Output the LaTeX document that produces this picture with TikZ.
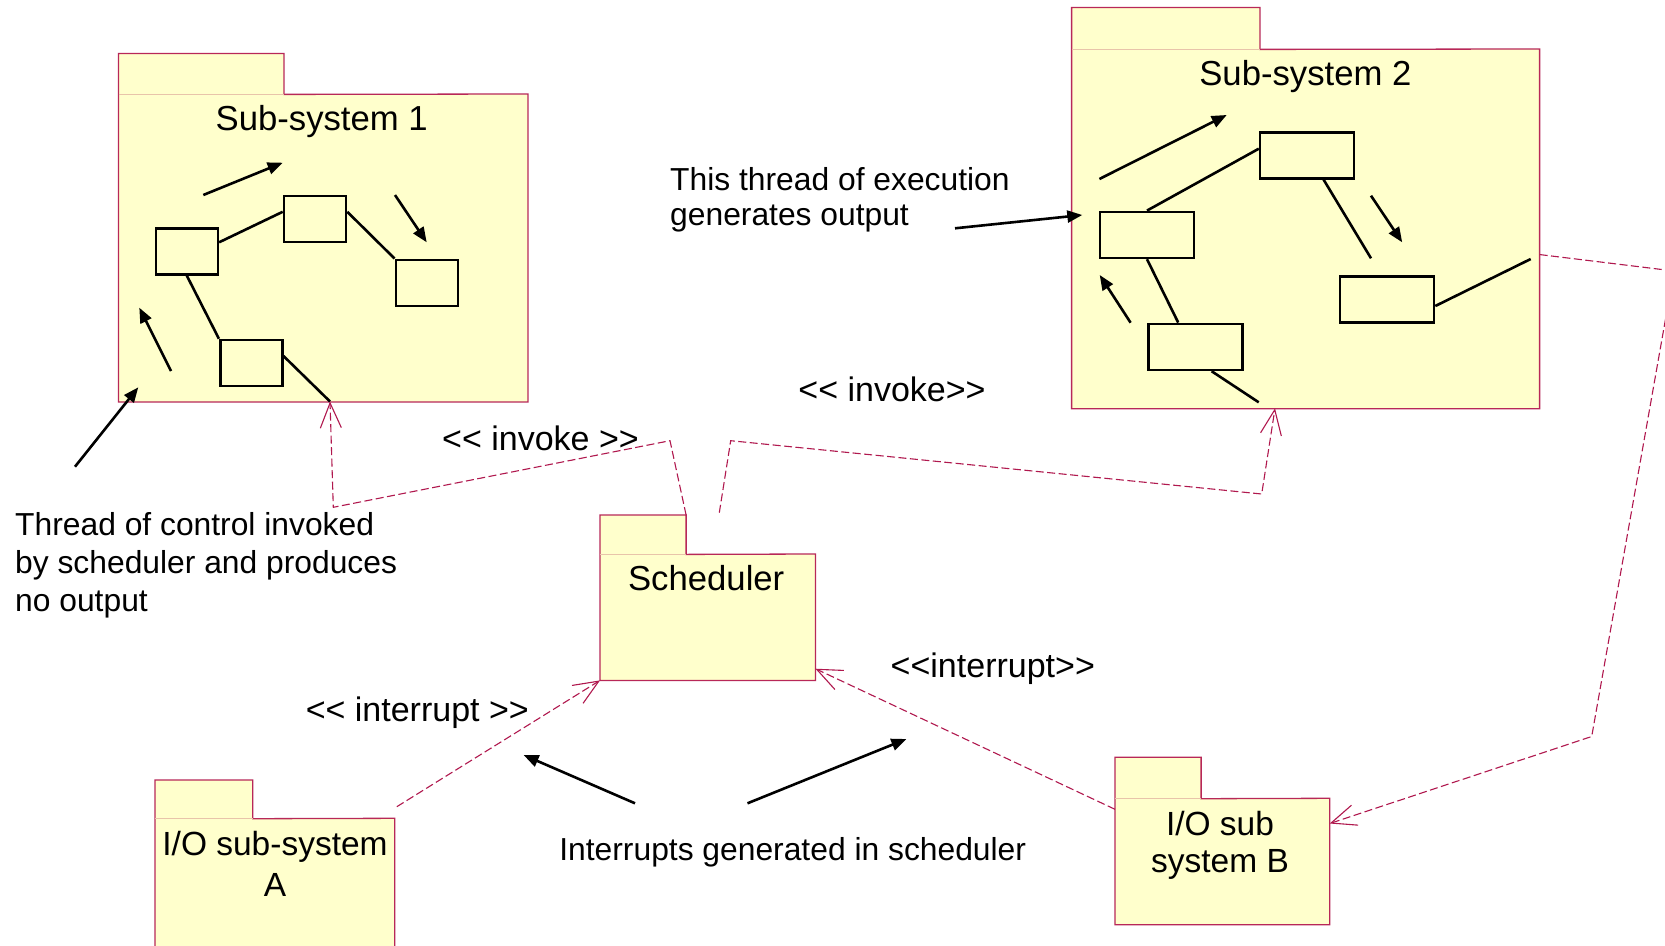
\documentclass[tikz,border=0pt]{standalone}
\usepackage{fontspec}
\setmainfont{Liberation Sans}[Ligatures=TeXOff]
\usetikzlibrary{arrows.meta,calc}

\definecolor{pkgfill}{RGB}{255,255,204}
\definecolor{pkgline}{RGB}{184,40,88}
\definecolor{pkgsep}{RGB}{232,196,170}
\definecolor{depline}{RGB}{176,24,78}

\tikzset{
  pkgarea/.style={rectangle, fill=pkgfill, draw=none, inner sep=0pt, anchor=north west},
  pkgedge/.style={draw=pkgline, line width=1.3pt, line join=miter},
  tabsep/.style={draw=pkgsep, line width=1.3pt},
  part/.style={rectangle, draw=black, line width=2.6pt, fill=pkgfill, inner sep=0pt,
               minimum width=62pt, minimum height=46pt},
  widepart/.style={part, minimum width=94pt},
  link/.style={draw=black, line width=2.6pt},
  flow/.style={draw=black, line width=2.6pt, -{Triangle[length=15pt,width=12pt]}},
  dep/.style={draw=depline, line width=1.1pt, dash pattern=on 8pt off 3.5pt,
              -{Straight Barb[length=25pt,width=21pt,line width=1.1pt]}},
  title/.style={font=\fontsize{34.7pt}{40pt}\selectfont, anchor=base, inner sep=0pt},
  label/.style={font=\fontsize{34pt}{40pt}\selectfont, anchor=base, inner sep=0pt},
  note/.style={font=\fontsize{31.8pt}{37.8pt}\selectfont, anchor=base west, inner sep=0pt, align=left},
}

% outline of a package: tab plus body, with a lighter seam under the tab
\newcommand\pkgoutline[2]{%
  \draw[pkgedge] (#1.south west) -- (#1.north west) -- (#1.north east) -- (#1.south east)
     -- (#2.north east) -- (#2.south east) -- (#2.south west) -- cycle;
  \draw[tabsep] (#1.south west) -- (#1.south east);
}

\begin{document}
\begin{tikzpicture}[x=1pt, y=-1pt]
\useasboundingbox (0,0) rectangle (1665,945);
\clip (0,0) rectangle (1665,945);
\fill[white] (0,0) rectangle (1665,945);

% ---------- packages ----------
\node[pkgarea, minimum width=165pt, minimum height=40.5pt] (s1tab) at (118.5,53.5) {};
\node[pkgarea, minimum width=409pt, minimum height=307.5pt] (s1) at (118.5,94) {};
\node[pkgarea, minimum width=188pt, minimum height=41.5pt] (s2tab) at (1071.6,7.5) {};
\node[pkgarea, minimum width=467.6pt, minimum height=359.3pt] (s2) at (1071.6,49) {};
\node[pkgarea, minimum width=85.7pt, minimum height=39pt] (schtab) at (600,515) {};
\node[pkgarea, minimum width=215pt, minimum height=126pt] (sch) at (600,554) {};
\node[pkgarea, minimum width=97.3pt, minimum height=38.3pt] (ioatab) at (155,780) {};
\node[pkgarea, minimum width=239.3pt, minimum height=160pt] (ioa) at (155,818.3) {};
\node[pkgarea, minimum width=85.7pt, minimum height=41pt] (iobtab) at (1115,757.3) {};
\node[pkgarea, minimum width=214.3pt, minimum height=126pt] (iob) at (1115,798.3) {};

\pkgoutline{s1tab}{s1}
\pkgoutline{s2tab}{s2}
\pkgoutline{schtab}{sch}
\pkgoutline{ioatab}{ioa}
\pkgoutline{iobtab}{iob}

% package titles (multi-line nodes are placed by their last baseline)
\node[title] (s1title) at (321.7,130) {Sub-system 1};
\node[title] (s2title) at (1305.4,85.7) {Sub-system 2};
\node[title] (schtitle) at (706.2,590) {Scheduler};
\node[title, font=\fontsize{33.5pt}{41pt}\selectfont, align=center] (ioatitle) at (275,896) {I/O sub-system\\A};
\node[title, font=\fontsize{33.5pt}{37.7pt}\selectfont, align=center] (iobtitle) at (1220,872.7) {I/O sub\\system B};

% ---------- sub-system 1 internals ----------
\node[part] (pa) at (186.8,251.3) {};
\node[part] (pb) at (315,218.8) {};
\node[part] (pc) at (426.8,282.8) {};
\node[part] (pd) at (251.2,363) {};
\coordinate (s1port) at (330,401.5);

\draw[link] ([yshift=9pt]pa.east) -- ([yshift=7pt]pb.west);
\draw[link] ([yshift=7pt]pb.east) -- (pc.north west);
\draw[link] (pa.south) -- (pd.north west);
\draw[link] ([yshift=7pt]pd.east) -- (s1port);

\coordinate (f1a) at (203.3,195);   \coordinate (f1b) at (282.7,162.7);
\coordinate (f2a) at (395,195);     \coordinate (f2b) at (426.7,242.3);
\coordinate (f3a) at (171,371);     \coordinate (f3b) at (139.3,307.7);
\coordinate (f4a) at (75,466.7);    \coordinate (f4b) at (138.3,387.3);
\draw[flow] (f1a) -- (f1b);
\draw[flow] (f2a) -- (f2b);
\draw[flow] (f3a) -- (f3b);
\draw[flow] (f4a) -- (f4b);

% ---------- sub-system 2 internals ----------
\node[widepart] (pe) at (1307.1,155.2) {};
\node[widepart] (pf) at (1147,234.9) {};
\node[widepart] (pg) at (1195.2,346.9) {};
\node[widepart] (ph) at (1387,299.2) {};
\coordinate (eend) at (1371,258.3);
\coordinate (gend) at (1258.7,402.3);
\coordinate (hend) at (1530.7,259);

\draw[link] (pf.north) -- ([yshift=6.5pt]pe.west);
\draw[link] ([xshift=16.4pt]pe.south) -- (eend);
\draw[link] (pf.south) -- ([xshift=-17pt]pg.north);
\draw[link] ([xshift=16.4pt]pg.south) -- (gend);
\draw[link] ([yshift=-6.8pt]ph.east) -- (hend);

\coordinate (f5a) at (1099.4,179);  \coordinate (f5b) at (1226.7,115);
\coordinate (f6a) at (1371,195.7);  \coordinate (f6b) at (1402.2,242.3);
\coordinate (f7a) at (1130.6,322.7);\coordinate (f7b) at (1099.7,275);
\coordinate (f8a) at (955,228.3);   \coordinate (f8b) at (1082.3,215);
\draw[flow] (f5a) -- (f5b);
\draw[flow] (f6a) -- (f6b);
\draw[flow] (f7a) -- (f7b);
\draw[flow] (f8a) -- (f8b);

% ---------- interrupt arrows ----------
\coordinate (f9a) at (635,803.3);   \coordinate (f9b) at (523.6,755);
\coordinate (f10a) at (747.5,803.3);\coordinate (f10b) at (906.4,739);
\draw[flow] (f9a) -- (f9b);
\draw[flow] (f10a) -- (f10b);

% ---------- dependencies ----------
\coordinate (b1) at (670,440.7);
\coordinate (b2) at (333.3,507.3);
\draw[dep] (schtab.north east) -- (b1) -- (b2) -- (s1port);

\coordinate (inv2from) at (719.3,512.7);
\coordinate (b3) at (730.7,440.7);
\coordinate (b4) at (1261.7,494);
\coordinate (s2port) at (1275,408.3);
\draw[dep] (inv2from) -- (b3) -- (b4) -- (s2port);

\coordinate (ioaport) at (396.8,806.7);
\draw[dep] (ioaport) -- (sch.south west);

\draw[dep] ([yshift=-11pt]iob.north west) -- ([yshift=11.7pt]sch.south east);

\coordinate (b5) at (1674,271);
\coordinate (b6) at (1591.7,736.5);
\draw[dep] ([yshift=-25.7pt]s2.east) -- (b5) -- (b6) -- ([yshift=38pt]iob.east);

% ---------- labels ----------
\node[label] (lInvokeA) at (540.5,450.7) {<< invoke >>};
\node[label] (lInvokeB) at (892,401.7) {<< invoke>>};
\node[label] (lIntA) at (417.3,721) {<< interrupt >>};
\node[label] (lIntB) at (992.8,677.5) {<<interrupt>>};
\node[label, font=\fontsize{31.8pt}{37.8pt}\selectfont] (lIntGen) at (792.7,860.5) {Interrupts generated in scheduler};

\node[note, font=\fontsize{31.8pt}{37.8pt}\selectfont] (nCtrl) at (15,611.3)
  {Thread of control invoked\\by scheduler and produces\\no output};
\node[note, font=\fontsize{31.8pt}{35.7pt}\selectfont] (nExec) at (670,225.7)
  {This thread of execution\\generates output};
\end{tikzpicture}
\end{document}
